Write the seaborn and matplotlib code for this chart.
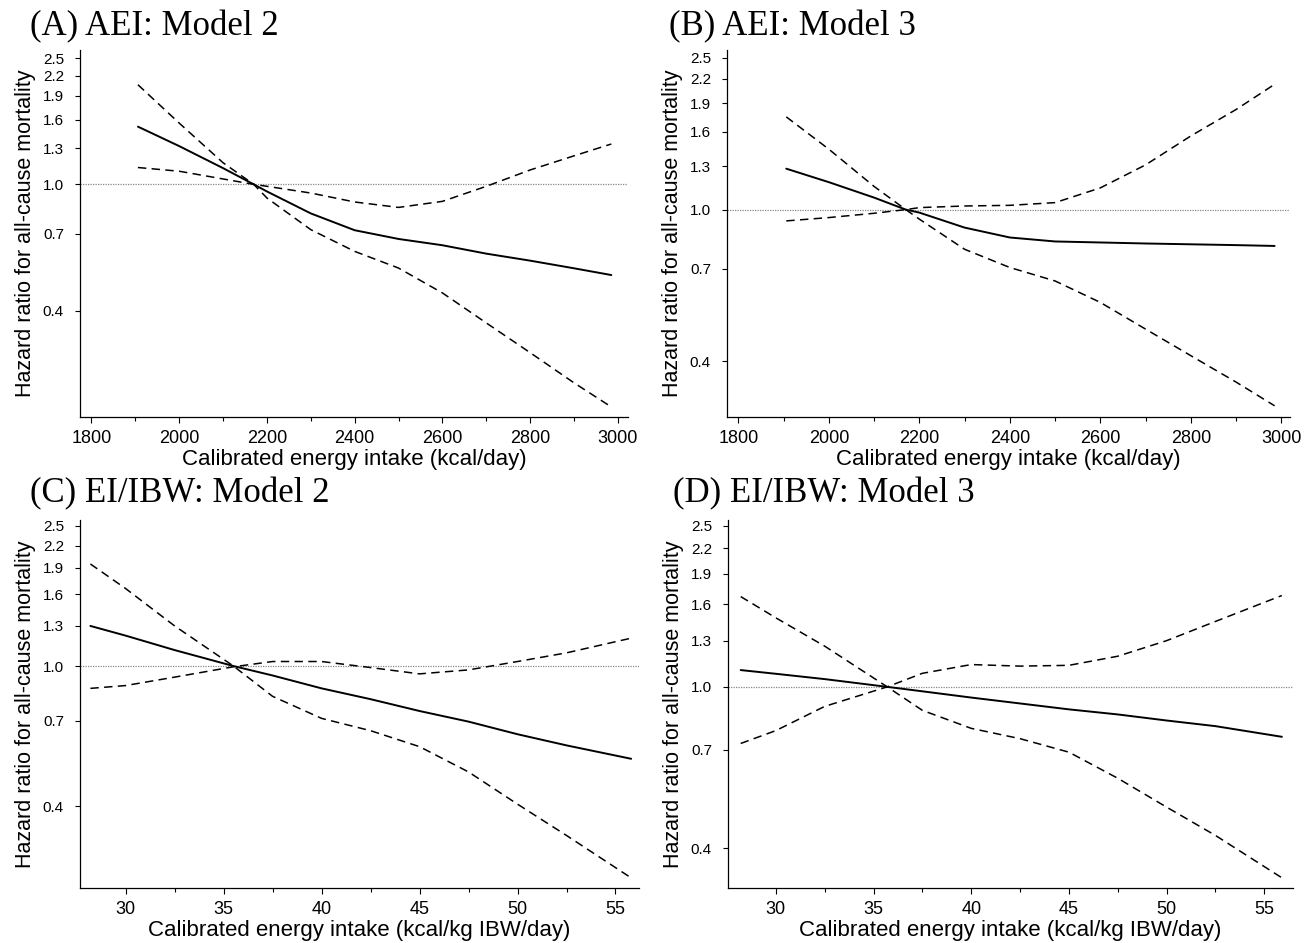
import matplotlib
matplotlib.use("Agg")
import matplotlib.pyplot as plt
import matplotlib.ticker as mticker
import pandas as pd
import seaborn as sns

# ---- data (hazard ratios, log scale) ----
x_aei = [1906, 2000, 2100, 2170, 2200, 2300, 2400, 2500, 2600, 2700, 2800, 2900, 2985]
a_hr = [1.52, 1.32, 1.125, 1.0, 0.95, 0.81, 0.717, 0.673, 0.643, 0.605, 0.575, 0.544, 0.518]
a_lo = [2.06, 1.56, 1.17, 1.0, 0.906, 0.72, 0.615, 0.545, 0.455, 0.366, 0.295, 0.237, 0.199]
a_hi = [1.13, 1.10, 1.04, 1.0, 0.986, 0.939, 0.88, 0.846, 0.884, 0.986, 1.11, 1.23, 1.34]

b_hr = [1.28, 1.18, 1.075, 1.0, 0.982, 0.897, 0.845, 0.825, 0.82, 0.815, 0.811, 0.807, 0.803]
b_lo = [1.75, 1.44, 1.15, 1.0, 0.944, 0.787, 0.705, 0.65, 0.571, 0.486, 0.414, 0.353, 0.306]
b_hi = [0.934, 0.953, 0.978, 1.0, 1.012, 1.022, 1.026, 1.043, 1.14, 1.31, 1.56, 1.83, 2.13]

x_ibw_c = [28.2, 30, 32.5, 35.5, 37.5, 40, 42.5, 45, 47.5, 50, 52.5, 55.8]
c_hr = [1.30, 1.22, 1.11, 1.0, 0.94, 0.864, 0.805, 0.745, 0.695, 0.64, 0.595, 0.545]
c_lo = [1.95, 1.66, 1.30, 1.0, 0.82, 0.71, 0.655, 0.59, 0.50, 0.405, 0.33, 0.25]
c_hi = [0.864, 0.88, 0.93, 0.995, 1.03, 1.03, 0.99, 0.95, 0.975, 1.03, 1.09, 1.20]

x_ibw_d = [28.2, 30, 32.5, 35.7, 37.5, 40, 42.5, 45, 47.5, 50, 52.5, 55.9]
d_hr = [1.10, 1.077, 1.045, 1.0, 0.975, 0.941, 0.91, 0.88, 0.855, 0.826, 0.80, 0.753]
d_lo = [1.67, 1.48, 1.26, 1.0, 0.875, 0.79, 0.745, 0.69, 0.595, 0.505, 0.43, 0.338]
d_hi = [0.725, 0.78, 0.895, 1.0, 1.08, 1.135, 1.125, 1.13, 1.19, 1.30, 1.45, 1.68]

y_ticks = [0.4, 0.7, 1.0, 1.3, 1.6, 1.9, 2.2, 2.5]
titles = ["(A) AEI: Model 2", "(B) AEI: Model 3", "(C) EI/IBW: Model 2", "(D) EI/IBW: Model 3"]
xlabels = ["Calibrated energy intake (kcal/day)"] * 2 + ["Calibrated energy intake (kcal/kg IBW/day)"] * 2
ylabel = "Hazard ratio for all-cause mortality"

sns.set_style("ticks")
plt.rcParams["font.family"] = ["Liberation Sans", "DejaVu Sans"]
plt.rcParams.update({"text.color": "black", "axes.labelcolor": "black",
                     "xtick.color": "black", "ytick.color": "black"})

fig = plt.figure(figsize=(13.07, 9.43), dpi=100)
W, H = 1307, 943

# axes boxes in pixels: left, top, right, bottom
boxes = [(80, 50, 628, 417), (727, 50, 1290, 417), (80, 520, 639, 888), (728, 520, 1293, 888)]
xlims = [(1774, 3023), (1775, 3019), (27.67, 56.2), (27.55, 56.47)]
ylims = [(0.185, 2.65), (0.286, 2.62), (0.234, 2.6), (0.319, 2.58)]
title_pos = [(30, 35), (669, 35), (30, 502), (673, 502)]
panels = [(x_aei, a_hr, a_lo, a_hi), (x_aei, b_hr, b_lo, b_hi),
          (x_ibw_c, c_hr, c_lo, c_hi), (x_ibw_d, d_hr, d_lo, d_hi)]
dash = (0, (5.5, 3.5))

for i, (x, hr, lo, hi) in enumerate(panels):
    l, t, r, b = boxes[i]
    ax = fig.add_axes([l / W, 1 - b / H, (r - l) / W, (b - t) / H])
    df = pd.DataFrame({"x": x, "hr": hr, "lo": lo, "hi": hi})
    ax.axhline(1.0, color="#888888", lw=0.9, ls=(0, (1, 1)), zorder=1)
    sns.lineplot(data=df, x="x", y="hr", ax=ax, color="black", lw=1.4)
    sns.lineplot(data=df, x="x", y="lo", ax=ax, color="black", lw=1.1, ls=dash)
    sns.lineplot(data=df, x="x", y="hi", ax=ax, color="black", lw=1.1, ls=dash)

    ax.set_yscale("log")
    ax.set_ylim(*ylims[i])
    ax.set_xlim(*xlims[i])
    ax.yaxis.set_major_locator(mticker.FixedLocator(y_ticks))
    ax.yaxis.set_minor_locator(mticker.NullLocator())
    ax.yaxis.set_major_formatter(mticker.FixedFormatter([f"{v:.1f}" for v in y_ticks]))
    if i < 2:
        ax.xaxis.set_major_locator(mticker.MultipleLocator(200))
        ax.xaxis.set_minor_locator(mticker.MultipleLocator(100))
    else:
        ax.xaxis.set_major_locator(mticker.MultipleLocator(5))
        ax.xaxis.set_minor_locator(mticker.MultipleLocator(2.5))
    ax.tick_params(axis="x", which="major", length=4.5, width=0.8, labelsize=13, pad=5)
    ax.tick_params(axis="x", which="minor", length=3, width=0.8)
    ax.tick_params(axis="y", which="major", length=3.6, width=0.8, labelsize=11, pad=8)
    for s in ["top", "right"]:
        ax.spines[s].set_visible(False)
    for s in ["left", "bottom"]:
        ax.spines[s].set_linewidth(0.9)
        ax.spines[s].set_color("black")
    ax.set_xlabel(xlabels[i], fontsize=16, labelpad=1)
    ax.set_ylabel(ylabel, fontsize=15.5, labelpad=5)

    tx, ty = title_pos[i]
    fig.text(tx / W, 1 - ty / H, titles[i], fontsize=25, va="baseline", ha="left",
             family=["Liberation Serif", "DejaVu Serif"])

fig.savefig("out.png", dpi=100)
